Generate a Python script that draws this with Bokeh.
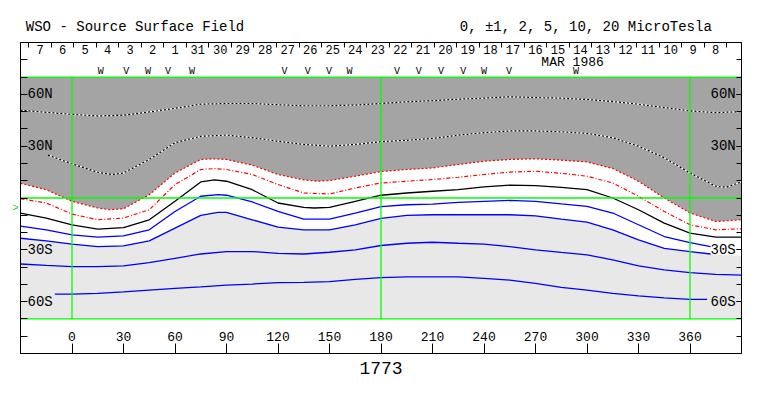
import numpy as np
from bokeh.plotting import figure
from bokeh.layouts import column
from bokeh.models import LinearAxis, FixedTicker, Range1d
from bokeh.core.properties import value
from bokeh.embed import file_html
from bokeh.resources import INLINE

FONT = "Liberation Mono"

# ---- axes / labels ----
LON_TICKS = [0, 30, 60, 90, 120, 150, 180, 210, 240, 270, 300, 330, 360]
LAT_TICKS = [-80, -70, -60, -50, -40, -30, -20, -10, 0, 10, 20, 30, 40, 50, 60, 70, 80]
LAT_LABEL_VALUES = [60, 30, -30, -60]
LAT_LABEL_TEXT = ["60N", "30N", "30S", "60S"]
GUIDE_LON = [0, 180, 360]
GUIDE_LAT = [70, 0, -70]

DAY_LABELS = ["7", "6", "5", "4", "3", "2", "1", "31", "30", "29", "28", "27", "26",
              "25", "24", "23", "22", "21", "20", "19", "18", "17", "16", "15", "14",
              "13", "12", "11", "10", "9", "8"]
FIRST_DAY_TICK = -25.2
DAY_STEP = 13.12
MONTH_TEXT = "MAR 1986"
MONTH_LON, MONTH_LAT = 291.6, 78.6

MARK_LON = [16.7, 31.6, 44.3, 55.9, 69.9, 123.8, 137.3, 149.7, 161.6, 189.3, 202.0,
            215.0, 227.9, 240.0, 254.6, 293.6]
MARK_TEXT = ["W", "V", "W", "V", "W", "V", "V", "V", "W", "V", "V", "V", "V", "W", "V", "W"]
MARK_LAT = 73.0

TITLE_LEFT = "WSO - Source Surface Field"
TITLE_RIGHT = "0, \u00b11, 2, 5, 10, 20 MicroTesla"
TITLE_LEFT_LON = -26.9
TITLE_RIGHT_LON = 372.7
ROTATION = "1773"
EARTH_LAT = -6

# ---- contours (longitude, latitude) ----
C1_LON = [-30, -15, 0, 15, 30, 45, 60, 75, 90, 105, 120, 135, 150, 165, 180, 195, 210, 225,
          240, 255, 270, 285, 300, 315, 330, 345, 360, 375, 390]
C1_LAT = [50.8, 49.6, 48.4, 47.5, 47.9, 49.8, 51.9, 54.3, 54.7, 54.7, 54.0, 53.4, 53.4, 53.8,
          54.7, 55.7, 56.3, 57.2, 57.8, 58.6, 58.1, 57.8, 57.0, 55.8, 54.3, 52.3, 50.4, 49.4, 50.0]

C2_LON = [-14, 0, 15, 23, 30, 45, 60, 75, 90, 105, 120, 135, 150, 165, 180, 195, 210, 225,
          240, 255, 270, 285, 300, 315, 330, 345, 360, 375, 381, 390]
C2_LAT = [24.8, 19.8, 14.9, 13.6, 14.5, 22.3, 32.0, 35.7, 36.4, 34.9, 32.9, 31.0, 30.0, 31.0,
          32.6, 33.4, 34.5, 36.4, 37.8, 38.8, 38.8, 38.3, 37.4, 34.9, 30.0, 23.3, 14.5, 6.8, 6.2, 9.3]

C3_LON = [-30, -15, 0, 15, 22, 30, 45, 60, 75, 83, 90, 105, 120, 135, 143, 150, 165, 180, 195,
          210, 225, 240, 255, 270, 285, 300, 315, 330, 345, 360, 375, 390]
C3_LAT = [8.5, 4.8, -1.9, -5.8, -6.8, -6.2, 1.9, 14.5, 22.3, 22.7, 22.3, 19.0, 13.6, 10.5, 9.7,
          10.1, 12.6, 15.3, 16.5, 17.4, 19.4, 21.3, 22.3, 22.7, 21.9, 20.9, 17.1, 9.7, 0.0, -8.7,
          -13.6, -12.6]

C4_LON = [-30, -15, 0, 15, 30, 45, 60, 75, 83, 90, 105, 120, 135, 150, 165, 180, 195, 210, 225,
          240, 255, 270, 285, 300, 315, 330, 345, 360, 375, 390]
C4_LAT = [-0.4, -2.9, -9.3, -12.6, -11.6, -6.8, 7.8, 16.5, 17.0, 16.5, 13.6, 7.8, 2.9, 2.3, 5.8,
          8.7, 9.7, 10.7, 12.0, 13.6, 15.0, 15.5, 14.3, 12.6, 8.7, 1.0, -7.8, -15.5, -18.4, -17.8]

C5_LON = [-30, -15, 0, 15, 30, 45, 60, 75, 83, 90, 105, 120, 135, 141, 150, 165, 180, 195, 210,
          225, 240, 255, 270, 285, 300, 315, 330, 345, 360, 375, 390]
C5_LAT = [-8.7, -11.6, -15.5, -18.0, -17.1, -12.6, -1.9, 9.3, 10.5, 9.7, 4.8, -2.9, -5.4, -5.8,
          -5.4, -1.9, 1.6, 2.9, 3.9, 4.8, 6.4, 7.4, 7.2, 6.1, 4.8, 0.0, -6.8, -14.5, -20.3, -22.7,
          -22.7]

C6_LON = [-30, -15, 0, 15, 30, 45, 60, 75, 85, 90, 105, 120, 135, 150, 165, 180, 195, 210, 225,
          240, 255, 270, 285, 300, 315, 330, 345, 360, 372]
C6_LAT = [-16.3, -18.4, -21.3, -22.7, -21.9, -18.4, -7.8, 1.0, 1.9, 1.6, -2.3, -7.8, -12.2,
          -12.2, -8.7, -5.0, -3.9, -3.5, -2.5, -1.9, -1.4, -1.9, -3.4, -4.8, -8.7, -15.5, -22.3,
          -25.8, -28.1]

C7_LON = [-30, -15, 0, 15, 30, 45, 60, 75, 85, 90, 105, 120, 135, 150, 165, 180, 195, 210, 225,
          240, 255, 270, 285, 300, 315, 330, 345, 360, 372, 390]
C7_LAT = [-23.3, -24.8, -26.7, -28.1, -27.7, -24.8, -17.4, -10.1, -8.3, -8.3, -12.6, -16.9,
          -18.4, -18.4, -15.5, -11.8, -10.1, -9.7, -9.7, -9.7, -9.7, -10.3, -12.2, -14.0, -18.4,
          -24.2, -29.1, -31.0, -32.4, -33.4]
C7_LINE_END = 372

C8_LON = [-30, -15, 0, 15, 30, 45, 60, 75, 90, 105, 120, 135, 150, 165, 180, 195, 210, 225,
          240, 255, 270, 285, 300, 315, 330, 345, 360, 375, 390]
C8_LAT = [-38.2, -39.0, -39.7, -39.7, -39.3, -37.4, -34.9, -32.4, -31.0, -31.0, -32.0, -32.4,
          -31.4, -30.0, -27.5, -26.2, -25.6, -26.2, -26.7, -28.1, -30.0, -31.5, -32.9, -35.8,
          -39.3, -41.6, -43.2, -44.2, -44.6]

C9_LON = [-10, 0, 15, 30, 45, 60, 75, 90, 105, 120, 135, 150, 165, 180, 195, 210, 225, 240,
          255, 270, 285, 300, 315, 330, 345, 360, 370]
C9_LAT = [-55.6, -55.6, -55.2, -54.3, -53.3, -52.3, -51.4, -50.4, -49.8, -49.0, -48.8, -48.4,
          -47.1, -46.1, -45.6, -45.6, -45.6, -46.5, -47.5, -49.4, -51.7, -53.3, -55.2, -56.6,
          -57.8, -58.7, -58.7]

X_MIN, X_MAX = -30, 390
Y_MIN, Y_MAX = -90, 90
DATA_TOP, DATA_BOTTOM = 70, -70

DARK = "#a4a4a4"
LIGHT = "#e8e8e8"
GREEN = "#00ff00"
BLUE = "#0000ff"
RED = "#ff0000"

BORDER_L, BORDER_R = 20, 14
FRAME_W = 721

# ---- header strip with the two title texts ----
header = figure(frame_width=FRAME_W, frame_height=40, x_range=Range1d(X_MIN, X_MAX),
                y_range=Range1d(0, 1), x_axis_location=None, y_axis_location=None,
                output_backend="svg", toolbar_location=None, min_border=0,
                min_border_left=BORDER_L, min_border_right=BORDER_R,
                outline_line_color=None, background_fill_color="white",
                border_fill_color="white")
header.grid.visible = False
header.text(x=[TITLE_LEFT_LON], y=[0.33], text=[TITLE_LEFT], text_font=value(FONT),
            text_font_size="14px", text_align="left", text_baseline="middle",
            text_color="black")
header.text(x=[TITLE_RIGHT_LON], y=[0.33], text=[TITLE_RIGHT], text_font=value(FONT),
            text_font_size="14px", text_align="right", text_baseline="middle",
            text_color="black")

# ---- main plot ----
p = figure(frame_width=FRAME_W, frame_height=311,
           x_range=Range1d(X_MIN, X_MAX), y_range=Range1d(Y_MIN, Y_MAX),
           x_axis_location=None, y_axis_location=None,
           output_backend="svg", toolbar_location=None,
           min_border_left=BORDER_L, min_border_right=BORDER_R, min_border_top=2,
           min_border_bottom=38,
           outline_line_color="black", outline_line_width=1,
           background_fill_color="white", border_fill_color="white")
p.grid.visible = False

# fills
p.varea(x=C3_LON, y1=C3_LAT, y2=DATA_TOP, fill_color=DARK)
p.varea(x=C7_LON, y1=DATA_BOTTOM, y2=C7_LAT, fill_color=LIGHT)

# dashed white/black contours
for lon, lat in [(C1_LON, C1_LAT), (C2_LON, C2_LAT)]:
    p.line(lon, lat, line_color="white", line_width=1.2)
    p.line(lon, lat, line_color="black", line_width=1.2, line_dash="2 2")

p.line(C3_LON, C3_LAT, line_color=RED, line_width=1.2, line_dash="2 2")
p.line(C4_LON, C4_LAT, line_color=RED, line_width=1.2, line_dash="4 2 1 2")
p.line(C5_LON, C5_LAT, line_color="black", line_width=1.3)

c7_lon = np.array(C7_LON)
c7_lat = np.array(C7_LAT)
keep = c7_lon <= C7_LINE_END
for lon, lat in [(C6_LON, C6_LAT), (c7_lon[keep], c7_lat[keep]), (C8_LON, C8_LAT), (C9_LON, C9_LAT)]:
    p.line(lon, lat, line_color=BLUE, line_width=1.3)

# green guide lines
p.segment(x0=GUIDE_LON, y0=DATA_BOTTOM, x1=GUIDE_LON, y1=DATA_TOP, line_color=GREEN, line_width=1.3)
p.segment(x0=X_MIN, y0=GUIDE_LAT, x1=X_MAX, y1=GUIDE_LAT, line_color=GREEN, line_width=1.3)

# day labels along the top
day_ticks = [FIRST_DAY_TICK + DAY_STEP * k for k in range(len(DAY_LABELS) + 1)]
day_centers = [FIRST_DAY_TICK + DAY_STEP * (k + 0.5) for k in range(len(DAY_LABELS))]
p.text(x=day_centers, y=86.0, text=DAY_LABELS, text_font=value(FONT), text_font_size="12px",
       text_align="center", text_baseline="middle", text_color="black")
p.text(x=[MONTH_LON], y=[MONTH_LAT], text=[MONTH_TEXT], text_font=value(FONT),
       text_font_size="13px", text_align="center", text_baseline="middle", text_color="black")
p.text(x=MARK_LON, y=MARK_LAT, text=MARK_TEXT, text_font=value(FONT), text_font_size="10px",
       text_align="center", text_baseline="middle", text_color="black")

# left latitude labels (drawn inside the frame, as in the reference)
p.text(x=X_MIN, y=LAT_LABEL_VALUES, text=LAT_LABEL_TEXT, x_offset=7, text_font=value(FONT),
       text_font_size="14px", text_align="left", text_baseline="middle", text_color="black")

# axes
common = dict(axis_line_color="black", major_tick_line_color="black",
              minor_tick_line_color="black", major_label_text_font=FONT,
              major_label_text_color="black")
xb = LinearAxis(ticker=FixedTicker(ticks=LON_TICKS, minor_ticks=[]), major_tick_in=10,
                major_tick_out=0, major_label_standoff=-22, major_label_text_font_size="13px",
                axis_label=ROTATION, axis_label_text_font=FONT, axis_label_text_font_size="18px",
                axis_label_text_font_style="normal", axis_label_text_color="black",
                axis_label_standoff=18, **common)
p.add_layout(xb, "below")

yl = LinearAxis(ticker=FixedTicker(ticks=[EARTH_LAT], minor_ticks=LAT_TICKS),
                major_tick_in=0, major_tick_out=0, minor_tick_in=7, minor_tick_out=0,
                major_label_overrides={EARTH_LAT: ">"}, major_label_standoff=2,
                axis_line_color="black", major_tick_line_color=None,
                minor_tick_line_color="black", major_label_text_font=FONT,
                major_label_text_font_size="10px", major_label_text_color="#00dd00")
p.add_layout(yl, "left")

right_overrides = dict(zip(LAT_LABEL_VALUES, LAT_LABEL_TEXT))
yr = LinearAxis(ticker=FixedTicker(ticks=LAT_LABEL_VALUES, minor_ticks=LAT_TICKS),
                major_tick_in=5, major_tick_out=0, minor_tick_in=5, minor_tick_out=0,
                major_label_standoff=-31, major_label_text_font_size="14px",
                major_label_overrides=right_overrides, **common)
p.add_layout(yr, "right")

xt = LinearAxis(ticker=FixedTicker(ticks=[], minor_ticks=day_ticks), major_tick_in=0,
                major_tick_out=0, minor_tick_in=5, minor_tick_out=0, major_label_standoff=0,
                **common)
p.add_layout(xt, "above")

layout = column(header, p, spacing=0)
open("out.html", "w").write(file_html(layout, INLINE))
